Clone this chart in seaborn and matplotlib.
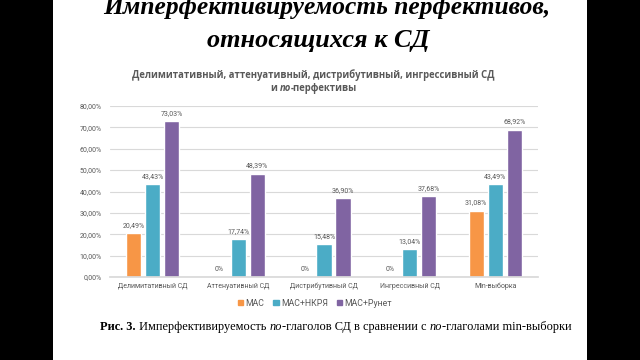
import matplotlib
matplotlib.use("Agg")
import matplotlib.pyplot as plt
import seaborn as sns
import pandas as pd
from matplotlib.patches import Rectangle
from matplotlib.ticker import FuncFormatter

categories = ["Делимитативный СД", "Аттенуативный СД", "Дистрибутивный СД",
              "Ингрессивный СД", "Min-выборка"]
series = ["МАС", "МАС+НКРЯ", "МАС+Рунет"]
mac = [20.49, 0.0, 0.0, 0.0, 31.08]
mac_nkrya = [43.43, 17.74, 15.48, 13.04, 43.49]
mac_runet = [73.03, 48.39, 36.90, 37.68, 68.92]
colors = ["#F79646", "#4BACC6", "#8064A2"]

rows = []
for s, vals in zip(series, [mac, mac_nkrya, mac_runet]):
    for c, v in zip(categories, vals):
        rows.append({"cat": c, "series": s, "val": v})
df = pd.DataFrame(rows)

sns.set_theme(style="white")
plt.rcParams["font.family"] = ["Roboto", "DejaVu Sans"]

W, H = 640, 360
fig = plt.figure(figsize=(6.4, 3.6), dpi=100)
fig.patch.set_facecolor("black")
fig.patches.append(Rectangle((53 / W, 0), (587 - 53) / W, 1, transform=fig.transFigure,
                             facecolor="white", edgecolor="none", zorder=-5))

ax = fig.add_axes([110 / W, 1 - 277 / H, (538 - 110) / W, (277 - 106) / H])
ax.set_facecolor("none")
sns.barplot(data=df, x="cat", y="val", hue="series", palette=colors, width=0.666,
            gap=0.21, ax=ax, legend=False, saturation=1)
ax.set_ylim(0, 80)
ax.set_yticks(range(0, 81, 10))
ax.yaxis.set_major_formatter(FuncFormatter(lambda v, p: f"{v:.2f}".replace(".", ",") + "%"))
ax.grid(axis="y", color="#D9D9D9", linewidth=0.8)
ax.set_axisbelow(True)
for sp in ["top", "right", "left"]:
    ax.spines[sp].set_visible(False)
ax.spines["bottom"].set_color("#D9D9D9")
ax.tick_params(axis="both", length=0, labelsize=5.0, colors="#595959")
ax.tick_params(axis="x", pad=4)
ax.tick_params(axis="y", pad=6)
ax.set_xlabel("")
ax.set_ylabel("")

for cont in ax.containers:
    labels = []
    for b in cont:
        v = b.get_height()
        labels.append("0%" if v == 0 else f"{v:.2f}".replace(".", ",") + "%")
    ax.bar_label(cont, labels=labels, fontsize=5.0, color="#595959", padding=3)

handles = [Rectangle((0, 0), 1, 1, color=c) for c in colors]
fig.legend(handles, series, loc="center", bbox_to_anchor=(315 / W, 1 - 303 / H), ncol=3,
           frameon=False, fontsize=6.3, labelcolor="#595959", handlelength=0.6,
           handleheight=0.6, handletextpad=0.3, columnspacing=1.0)

fig.canvas.draw()
renderer = fig.canvas.get_renderer()


def seg_width(text, props):
    t1 = fig.text(0, 0, text + "|", **props)
    t2 = fig.text(0, 0, "|", **props)
    w = t1.get_window_extent(renderer).width - t2.get_window_extent(renderer).width
    t1.remove()
    t2.remove()
    return w


def draw_line(segments, xc, y_px, target_w=None):
    total = sum(seg_width(t, p) for t, p in segments)
    scale = 1.0
    if target_w is not None:
        scale = target_w / total
        segments = [(t, dict(p, fontsize=p["fontsize"] * scale)) for t, p in segments]
        total = sum(seg_width(t, p) for t, p in segments)
    x = xc - total / 2
    for t, p in segments:
        fig.text(x / W, 1 - y_px / H, t, va="baseline", ha="left", **p)
        x += seg_width(t, p)
    return scale


# Slide title
tp = dict(family="Liberation Serif", weight="bold", style="italic", fontsize=18, color="black")
sc = draw_line([("относящихся к СД", tp)], 318.5, 46.5, target_w=223)
draw_line([("Имперфективируемость перфективов,", tp)], 327, 14, target_w=448)

# Chart title
cp = dict(family=["Open Sans", "DejaVu Sans"], weight="bold", fontsize=8, color="#595959")
sc2 = draw_line([("Делимитативный, аттенуативный, дистрибутивный, ингрессивный СД", cp)],
                313.5, 78, target_w=363)
cp2 = dict(cp, fontsize=8 * sc2)
cpi2 = dict(cp2, style="italic")
draw_line([("и ", cp2), ("по", cpi2), ("-перфективы", cp2)], 314, 91)

# Caption
rp = dict(family="Liberation Serif", fontsize=9, color="black")
rb = dict(rp, weight="bold")
ri = dict(rp, style="italic")
draw_line([("Рис. 3.", rb), (" Имперфективируемость ", rp), ("по", ri),
           ("-глаголов СД в сравнении с ", rp), ("по", ri), ("-глаголами min-выборки", rp)],
          336, 330, target_w=473)

fig.savefig("out.png", dpi=100, facecolor=fig.get_facecolor())
